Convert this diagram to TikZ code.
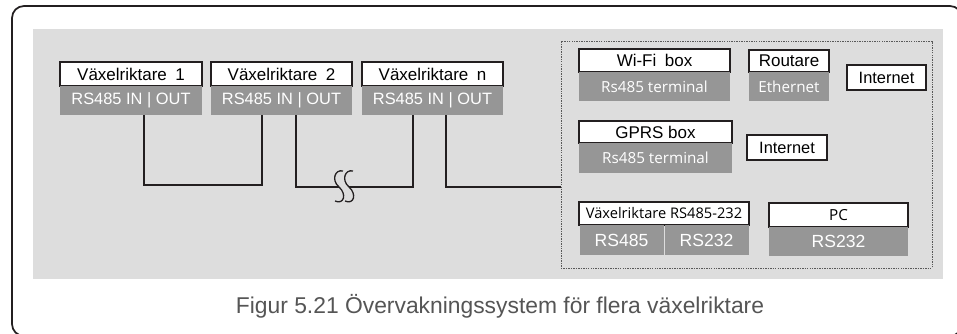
\documentclass[tikz,border=0pt]{standalone}
\usepackage{fontspec}
\setmainfont{Liberation Sans}
\newfontfamily\osans{Open Sans}
\usepackage{xcolor}
\definecolor{bggray}{RGB}{221,221,221}
\definecolor{portgray}{RGB}{150,150,150}
\definecolor{framecol}{RGB}{35,31,32}
\definecolor{capgray}{RGB}{85,85,85}
\newdimen\pxu \pxu=0.03cm

\begin{document}
\begin{tikzpicture}[x=\pxu, y=-\pxu]
%style for white label box
\tikzstyle{lab} = [rectangle, fill=white, draw=framecol, line width=1.3pt, inner sep=0pt, minimum height=24\pxu, font=\fontsize{14.5}{16}\selectfont]

%style for gray port box
\tikzstyle{port} = [rectangle, fill=portgray, text=white, inner sep=0pt, minimum height=29\pxu, font=\fontsize{14}{16}\selectfont]

%style for internet box
\tikzstyle{netbox} = [rectangle, fill=white, draw=framecol, line width=1.3pt, inner sep=0pt, minimum width=79\pxu, minimum height=25\pxu, font=\fontsize{14}{16}\selectfont]

%style for wires
\tikzstyle{wire} = [draw=framecol, line width=1.1pt]

\useasboundingbox (0,0) rectangle (957,333);

%outer frame and background
\begin{scope}
\clip (0,0) rectangle (957,333);
\draw[framecol, line width=1.5pt, rounded corners=12\pxu] (12,6) rectangle (962,336);
\end{scope}
\fill[bggray] (33,29) rectangle (943,279);

%place nodes
\node[lab, minimum width=142\pxu](inv1) at (131,74) {Växelriktare\enspace 1};
\node[port, minimum width=142\pxu](inv1io) at (131,100.5) {RS485 IN | OUT};
\node[lab, minimum width=141\pxu](inv2) at (281.5,74) {Växelriktare\enspace 2};
\node[port, minimum width=141\pxu](inv2io) at (281.5,100.5) {RS485 IN | OUT};
\node[lab, minimum width=141\pxu](invn) at (432.5,74) {Växelriktare\enspace n};
\node[port, minimum width=141\pxu](invnio) at (432.5,100.5) {RS485 IN | OUT};

\node[draw=black!65, line width=0.8pt, dash pattern=on 1.2pt off 0.9pt, minimum width=371\pxu, minimum height=227\pxu](hub) at (746.5,154.5) {};

\node[lab, minimum width=151\pxu, minimum height=23\pxu](wifi) at (654.5,60.5) {Wi-Fi\enspace box};
\node[port, minimum width=151\pxu, font=\osans\fontsize{13}{15}\selectfont](wifiio) at (654.5,86.5) {Rs485 terminal};
\node[lab, minimum width=80\pxu, minimum height=22\pxu](router) at (789,61) {Routare};
\node[port, minimum width=80\pxu, font=\osans\fontsize{13}{15}\selectfont](routerio) at (789,86.5) {Ethernet};
\node[netbox](net1) at (886.5,77.5) {Internet};

\node[lab, minimum width=153\pxu, minimum height=22\pxu](gprs) at (655.5,132) {GPRS box};
\node[port, minimum width=153\pxu, minimum height=30\pxu, font=\osans\fontsize{13}{15}\selectfont](gprsio) at (655.5,158) {Rs485 terminal};
\node[netbox, minimum width=80\pxu](net2) at (787,147.5) {Internet};

\node[lab, minimum width=170\pxu, minimum height=23\pxu, font=\osans\fontsize{12.5}{15}\selectfont](conv) at (664,213.5) {Växelriktare RS485-232};
\node[port, minimum width=84\pxu, minimum height=30\pxu, font=\fontsize{15}{17}\selectfont](conv485) at (621.5,240) {RS485};
\node[port, minimum width=84\pxu, minimum height=30\pxu, font=\fontsize{15}{17}\selectfont](conv232) at (706.5,240) {RS232};
\node[lab, minimum width=139\pxu, font=\osans\fontsize{13}{15}\selectfont](pc) at (838.5,215) {PC};
\node[port, minimum width=139\pxu, font=\fontsize{15}{17}\selectfont](pcio) at (838.5,241.5) {RS232};

\node[text=capgray, font=\fontsize{19.5}{22}\selectfont](caption) at (500,306) {Figur 5.21 Övervakningssystem för flera växelriktare};

%wire end points
\coordinate (o1) at ([xshift=13\pxu]inv1io.south);
\coordinate (i2) at ([xshift=-19.5\pxu]inv2io.south);
\coordinate (o2) at ([xshift=14.5\pxu]inv2io.south);
\coordinate (in) at ([xshift=-19.5\pxu]invnio.south);
\coordinate (on) at ([xshift=13.5\pxu]invnio.south);
\coordinate (low1) at (0,185);
\coordinate (low2) at (0,187);
\coordinate (brkL) at (339,187);
\coordinate (brkR) at (349,187);

%connect nodes with lines
\draw[wire] (o1) |- (i2 |- low1) -- (i2);
\draw[wire] (o2) |- (brkL);
\draw[wire] (brkR) -| (in);
\draw[wire] (on) |- (hub.west |- low2);

% break mark
\draw[wire] (343,171) .. controls (335,169) and (331,180) .. (brkL) .. controls (347,194) and (344,205) .. (335,201);
\draw[wire] (353,171) .. controls (345,169) and (341,180) .. (brkR) .. controls (357,194) and (354,205) .. (345,201);
\end{tikzpicture}
\end{document}
